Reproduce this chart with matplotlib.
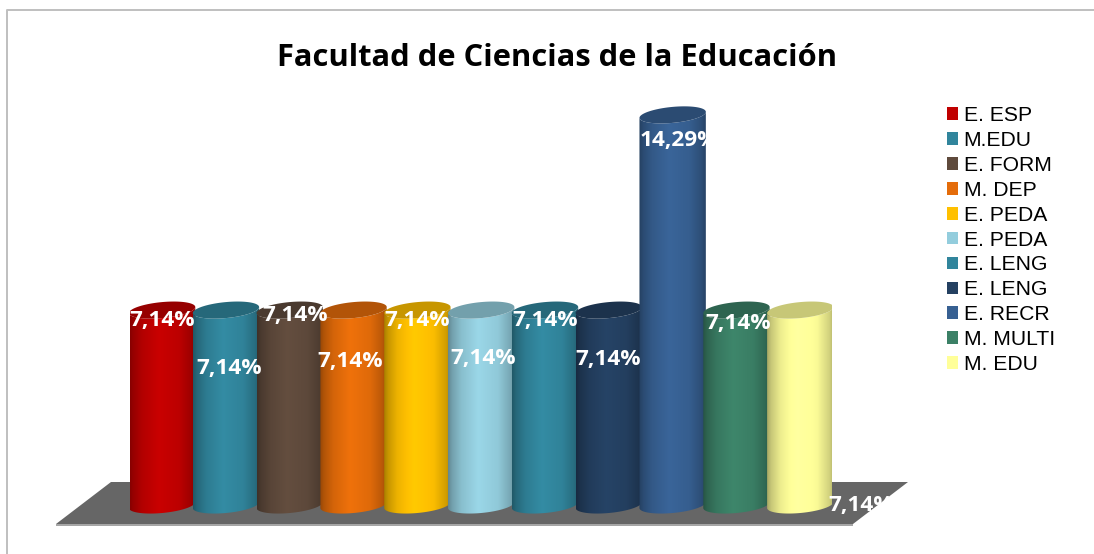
import numpy as np
import matplotlib
matplotlib.use('Agg')
import matplotlib.pyplot as plt
from matplotlib.patches import Patch, Polygon

title = 'Facultad de Ciencias de la Educación'
categories = ['E. ESP', 'M.EDU', 'E. FORM', 'M. DEP', 'E. PEDA', 'E. PEDA',
              'E. LENG', 'E. LENG', 'E. RECR', 'M. MULTI', 'M. EDU']
values = [7.14, 7.14, 7.14, 7.14, 7.14, 7.14, 7.14, 7.14, 14.29, 7.14, 7.14]
bar_labels = ['7,14%', '7,14%', '7,14%', '7,14%', '7,14%', '7,14%',
              '7,14%', '7,14%', '14,29%', '7,14%', '7,14%']

colors = ['#C00000', '#31859C', '#5F4A3C', '#E46C0A', '#FFC000', '#93CDDD',
          '#31859C', '#244061', '#376092', '#3B8066', '#FFFF99']
# label offsets from the top of each bar, in pixels
label_dx = [0, 3, 5, -3, 0, 2, 0, -1, 6, 2, 61]
label_dy = [-10, -58, -5, -51, -10, -48, -10, -49, -26, -13, -195]

W, H = 1094, 554
fig = plt.figure(figsize=(W / 100, H / 100), dpi=100)
fig.patch.set_facecolor('white')


def px(x, y):
    return x / W, 1 - y / H


# chart frame: only top and left edges show
fig.add_artist(plt.Line2D([7 / W, 7 / W, 1], [0, 1 - 10 / H, 1 - 10 / H],
                          color='#BFBFBF', lw=1.4))

# floor, kept below the axes
floor = [(56, 524), (111, 482), (908, 482), (853, 524)]
fig.add_artist(Polygon([px(*p) for p in [(56, 526), (853, 526), (853, 524), (56, 524)]],
                       closed=True, transform=fig.transFigure, fc='#A6A6A6', ec='none', zorder=-2))
fig.add_artist(Polygon([px(*p) for p in floor], closed=True,
                       transform=fig.transFigure, fc='#666666', ec='none', zorder=-1))

# plot area: 63.8 px per bar, 27.3 px per percent, baseline at y=505
ax = fig.add_axes([130.2 / W, 1 - (505 + 27.3) / H, 702 / W, 17 * 27.3 / H])
ax.axis('off')
ax.patch.set_alpha(0)

half = 0.52
minor = 8 / 27.3
tilt = 3 / 27.3
shade_x = [0, 0.06, 0.2, 0.45, 0.75, 0.93, 1]
shade_v = [0.66, 0.78, 0.93, 1.05, 0.98, 0.82, 0.70]
u = np.linspace(0, 1, 200)
shade = np.interp(u, shade_x, shade_v)


def rim(i, level, t):
    return np.column_stack([i + half * np.cos(t),
                            level + minor * np.sin(t) + tilt * np.cos(t)])


for i, (val, col) in enumerate(zip(values, colors)):
    rgb = np.array(matplotlib.colors.to_rgb(col))
    grad = np.clip(shade[:, None] * rgb, 0, 1)[None, :, :]
    lower = np.linspace(np.pi, 2 * np.pi, 60)
    body = np.vstack([rim(i, 0, lower), rim(i, val, lower[::-1])])
    im = ax.imshow(grad, extent=[i - half, i + half, -1, val + 1], aspect='auto',
                   zorder=2 + i, interpolation='bilinear')
    im.set_clip_path(Polygon(body, closed=True, transform=ax.transData))
    top = rim(i, val, np.linspace(0, 2 * np.pi, 120))
    ax.add_patch(Polygon(top, closed=True, fc=rgb * 0.78, ec='none', zorder=2 + i))

ax.set_xlim(-0.5, 10.5)
ax.set_ylim(-1, 16)

for i, val in enumerate(values):
    ax.annotate(bar_labels[i], xy=(i, val),
                xytext=(label_dx[i] * 0.72, label_dy[i] * 0.72), textcoords='offset points',
                ha='center', va='center', color='white', fontsize=16.2, fontweight='bold',
                family='Open Sans', zorder=30, annotation_clip=False)

fig.text(557 / W, 1 - 58 / H, title, ha='center', va='center', fontsize=22.2,
         fontweight='bold', family='Open Sans', color='black')

handles = [Patch(facecolor=c, edgecolor='none') for c in colors]
fig.legend(handles, categories, loc='upper left', bbox_to_anchor=(947 / W, 1 - 106 / H),
           frameon=False, prop={'family': 'Liberation Sans', 'size': 15.2},
           handlelength=0.52, handleheight=0.55, handletextpad=0.27, labelspacing=0.28,
           borderpad=0, borderaxespad=0)

fig.savefig('out.png', dpi=100)
